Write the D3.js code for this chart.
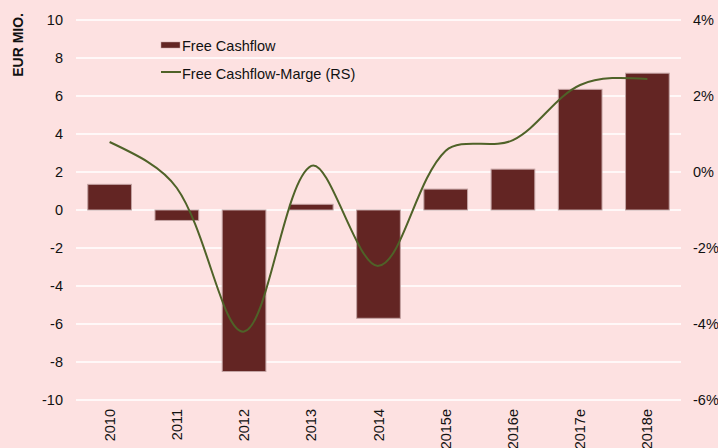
<!DOCTYPE html>
<html lang="de">
<head>
    <meta charset="UTF-8">
    <title>Free Cashflow</title>
    <script src="https://cdn.jsdelivr.net/npm/d3@7"></script>
    <style>
        body { margin: 0; background: #fde1e1; }
        svg { display: block; font-family: "Liberation Sans", Arial, sans-serif; }
        .tick-label { font-size: 14.5px; fill: #111; }
    </style>
</head>
<body>
    <div id="chart"></div>
    <script>
        // data
        const years = ["2010", "2011", "2012", "2013", "2014", "2015e", "2016e", "2017e", "2018e"];
        const cashflow = [1.35, -0.55, -8.5, 0.3, -5.7, 1.1, 2.15, 6.35, 7.2];
        const margin = [0.79, -0.42, -4.2, 0.16, -2.47, 0.56, 0.84, 2.29, 2.45];
        const leftTicks = [-10, -8, -6, -4, -2, 0, 2, 4, 6, 8, 10];
        const rightTicks = [-6, -4, -2, 0, 2, 4];

        const width = 718, height = 448;
        const plot = { left: 76, right: 681, top: 20, bottom: 400 };

        // spreadsheet-style smoothed line: control arms weighted by segment length,
        // natural (zero curvature) ends
        function smoothCurve(context) {
            return {
                areaStart() {}, areaEnd() {},
                lineStart() { this.pts = []; },
                point(x, y) { this.pts.push([x, y]); },
                lineEnd() {
                    const p = this.pts, n = p.length;
                    if (!n) return;
                    context.moveTo(p[0][0], p[0][1]);
                    if (n < 3) {
                        if (n === 2) context.lineTo(p[1][0], p[1][1]);
                        return;
                    }
                    const cin = [], cout = [];
                    for (let i = 1; i < n - 1; i++) {
                        const tx = p[i + 1][0] - p[i - 1][0], ty = p[i + 1][1] - p[i - 1][1];
                        const dp = Math.hypot(p[i][0] - p[i - 1][0], p[i][1] - p[i - 1][1]);
                        const dn = Math.hypot(p[i + 1][0] - p[i][0], p[i + 1][1] - p[i][1]);
                        const fin = dp / (dp + dn) / 3, fout = dn / (dp + dn) / 3;
                        cin[i] = [p[i][0] - tx * fin, p[i][1] - ty * fin];
                        cout[i] = [p[i][0] + tx * fout, p[i][1] + ty * fout];
                    }
                    cout[0] = [(p[0][0] + cin[1][0]) / 2, (p[0][1] + cin[1][1]) / 2];
                    cin[n - 1] = [(p[n - 1][0] + cout[n - 2][0]) / 2, (p[n - 1][1] + cout[n - 2][1]) / 2];
                    for (let i = 0; i < n - 1; i++) {
                        context.bezierCurveTo(cout[i][0], cout[i][1], cin[i + 1][0], cin[i + 1][1], p[i + 1][0], p[i + 1][1]);
                    }
                }
            };
        }

        const svg = d3.select('#chart').append('svg')
            .attr('width', width)
            .attr('height', height);

        svg.append('rect')
            .attr('width', width).attr('height', height)
            .attr('fill', '#fde1e1');

        const x = d3.scaleBand()
            .domain(years)
            .range([plot.left, plot.right])
            .paddingInner(0.35)
            .paddingOuter(0.175);

        const y = d3.scaleLinear().domain([-10, 10]).range([plot.bottom, plot.top]);
        const y2 = d3.scaleLinear().domain([-6, 4]).range([plot.bottom, plot.top]);

        // gridlines
        svg.append('g').selectAll('line')
            .data(leftTicks)
            .enter().append('line')
            .attr('x1', plot.left).attr('x2', plot.right)
            .attr('y1', d => y(d)).attr('y2', d => y(d))
            .attr('stroke', '#ffffff')
            .attr('stroke-width', 1.5);

        // left axis (plain hyphen for negatives)
        const leftAxis = svg.append('g')
            .attr('transform', `translate(${plot.left - 13},0)`)
            .call(d3.axisLeft(y).tickValues(leftTicks).tickSize(0).tickPadding(0)
                .tickFormat(d => String(d)));
        leftAxis.select('.domain').remove();
        leftAxis.selectAll('text').attr('class', 'tick-label');

        // right axis
        const rightAxis = svg.append('g')
            .attr('transform', `translate(${plot.right + 12},0)`)
            .call(d3.axisRight(y2).tickValues(rightTicks).tickSize(0).tickPadding(0)
                .tickFormat(d => d + '%'));
        rightAxis.select('.domain').remove();
        rightAxis.selectAll('text').attr('class', 'tick-label');

        // x axis labels
        const xAxis = svg.append('g')
            .attr('transform', `translate(0,${plot.bottom + 9})`)
            .call(d3.axisBottom(x).tickSize(0).tickPadding(0));
        xAxis.select('.domain').remove();
        xAxis.selectAll('text')
            .attr('class', 'tick-label')
            .attr('transform', 'rotate(-90)')
            .attr('text-anchor', 'end')
            .attr('x', 0)
            .attr('y', 0)
            .attr('dy', '0.35em');

        // y title
        svg.append('text')
            .attr('transform', 'translate(22.5,13) rotate(-90)')
            .attr('text-anchor', 'end')
            .attr('font-size', '14px')
            .attr('font-weight', 'bold')
            .attr('fill', '#111')
            .text('EUR MIO.');

        // bars
        svg.append('g').selectAll('rect')
            .data(cashflow)
            .enter().append('rect')
            .attr('x', (d, i) => x(years[i]))
            .attr('width', x.bandwidth())
            .attr('y', d => y(Math.max(0, d)))
            .attr('height', d => Math.abs(y(d) - y(0)))
            .attr('fill', '#632523')
            .attr('stroke', '#c3a3a3')
            .attr('stroke-width', 1);

        // line
        const line = d3.line()
            .x((d, i) => x(years[i]) + x.bandwidth() / 2)
            .y(d => y2(d))
            .curve(smoothCurve);

        svg.append('path')
            .datum(margin)
            .attr('d', line)
            .attr('fill', 'none')
            .attr('stroke', '#4f6228')
            .attr('stroke-width', 2);

        // legend
        const legend = svg.append('g');
        legend.append('rect')
            .attr('x', 161).attr('y', 42)
            .attr('width', 19).attr('height', 6)
            .attr('fill', '#632523')
            .attr('stroke', '#c3a3a3').attr('stroke-width', 0.5);
        legend.append('text')
            .attr('x', 182).attr('y', 51)
            .attr('font-size', '14.5px').attr('fill', '#111')
            .text('Free Cashflow');
        legend.append('line')
            .attr('x1', 161).attr('x2', 181)
            .attr('y1', 72).attr('y2', 72)
            .attr('stroke', '#4f6228').attr('stroke-width', 2);
        legend.append('text')
            .attr('x', 182).attr('y', 78.5)
            .attr('font-size', '14.5px').attr('fill', '#111')
            .text('Free Cashflow-Marge (RS)');
    </script>
</body>
</html>
